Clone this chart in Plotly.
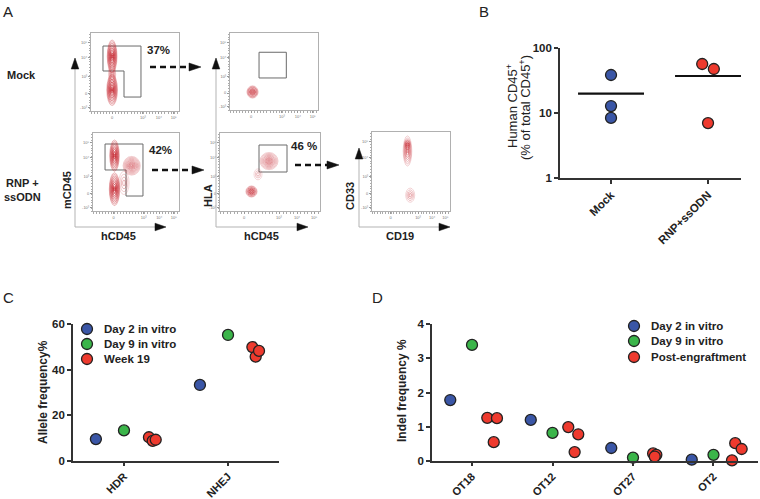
import plotly.graph_objects as go
import numpy as np

W, H = 760, 499

# ---------------- data ----------------
# Panel B (log scale, % human CD45+)
b_groups = ["Mock", "RNP+ssODN"]
b_mock = [38.4, 12.8, 8.4]
b_rnp = [56.7, 47.5, 7.0]
b_mock_jitter = [0.0, 0.0, 0.0]
b_rnp_jitter = [-0.06, 0.06, 0.0]

# Panel C (allele frequency %)
c_categories = ["HDR", "NHEJ"]
c_series = ["Day 2 in vitro", "Day 9 in vitro", "Week 19"]
c_day2 = [9.6, 33.3]
c_day9 = [13.4, 55.2]
c_week19_hdr = [10.4, 8.8, 9.3]
c_week19_nhej = [49.9, 45.7, 48.2]
c_week19_offsets_hdr = [0.24, 0.276, 0.305]
c_week19_offsets_nhej = [0.234, 0.266, 0.298]

# Panel D (indel frequency %)
d_categories = ["OT18", "OT12", "OT27", "OT2"]
d_series = ["Day 2 in vitro", "Day 9 in vitro", "Post-engraftment"]
d_day2 = [1.78, 1.20, 0.38, 0.04]
d_day9 = [3.39, 0.82, 0.10, 0.18]
d_post = [[1.26, 1.25, 0.55], [0.99, 0.78, 0.26], [0.22, 0.18, 0.13], [0.02, 0.52, 0.35]]
d_post_offsets = [[0.19, 0.31, 0.27], [0.196, 0.32, 0.275], [0.25, 0.29, 0.27], [0.23, 0.27, 0.35]]

# Panel A flow plots: gates (0-100 plotting units) and population blobs
flow_x_ticks = [24, 59, 77, 94]
flow_x_ticktext = ["0", "10³", "10⁴", "10⁵"]
flow_y_ticks = [4, 22, 44, 68, 88]
flow_y_ticktext = ["-10³", "0", "10³", "10⁴", "10⁵"]

gate_f1_x = [13.6, 56.8, 56.8, 37.5, 37.5, 13.6, 13.6]
gate_f1_y = [83.3, 83.3, 17.9, 17.9, 51.3, 51.3, 83.3]
gate_f3_x = [14.0, 58.1, 58.1, 38.4, 38.4, 14.0, 14.0]
gate_f3_y = [85.9, 85.9, 19.2, 19.2, 52.6, 52.6, 85.9]
gate_f2_x = [33, 64, 64, 33, 33]
gate_f2_y = [75, 75, 41.6, 41.6, 75]
gate_f4_x = [39, 67, 67, 39, 39]
gate_f4_y = [84.6, 84.6, 50, 50, 84.6]

# blob: (panel, cx, cy, width, height, rings, opacity)
blobs = [
    (1, 24, 70, 11, 42, 10, 0.6),
    (1, 24, 27, 12, 40, 10, 0.6),
    (1, 24, 47, 8, 30, 4, 0.45),
    (3, 25, 71, 11, 40, 10, 0.6),
    (3, 25, 28, 12, 42, 10, 0.6),
    (3, 45, 58, 20, 24, 10, 0.4),
    (3, 36, 36, 12, 30, 4, 0.3),
    (2, 25.6, 23.4, 12.5, 15.6, 7, 0.6),
    (4, 31.5, 25, 11, 14, 7, 0.6),
    (4, 49, 64, 18, 22, 9, 0.4),
    (4, 38, 47, 8, 14, 3, 0.3),
    (5, 45.5, 76, 11, 38, 7, 0.4),
    (5, 45.5, 84, 7, 12, 4, 0.6),
    (5, 49, 20, 11.5, 18, 4, 0.35),
]

# ---------------- helpers ----------------
def px(x):
    return x / W


def py(y):
    return 1 - y / H


BLUE = "#3a56a6"
GREEN = "#3bb54a"
RED = "#ee3a2e"
EDGE = "#222222"
FONT = "Liberation Sans"
AXC = "#333333"

fig = go.Figure()


def marker(color):
    return dict(size=11, color=color, line=dict(color=EDGE, width=1.3))


# ---------------- Panel B ----------------
fig.add_trace(go.Scatter(x=b_mock_jitter, y=b_mock, mode="markers", marker=marker(BLUE),
                         xaxis="x", yaxis="y", showlegend=False, cliponaxis=False))
fig.add_trace(go.Scatter(x=[1 + j for j in b_rnp_jitter], y=b_rnp, mode="markers", marker=marker(RED),
                         xaxis="x", yaxis="y", showlegend=False, cliponaxis=False))
for i, vals in enumerate([b_mock, b_rnp]):
    m = float(np.mean(vals))
    fig.add_trace(go.Scatter(x=[i - 0.34, i + 0.34], y=[m, m], mode="lines",
                             line=dict(color="#111", width=2.2), xaxis="x", yaxis="y",
                             showlegend=False, cliponaxis=False))

# ---------------- Panel C ----------------
fig.add_trace(go.Scatter(x=[-0.27, 1 - 0.27], y=c_day2, mode="markers", marker=marker(BLUE),
                         xaxis="x2", yaxis="y2", showlegend=False, cliponaxis=False))
fig.add_trace(go.Scatter(x=[0, 1], y=c_day9, mode="markers", marker=marker(GREEN),
                         xaxis="x2", yaxis="y2", showlegend=False, cliponaxis=False))
c_red_x = [o for o in c_week19_offsets_hdr] + [1 + o for o in c_week19_offsets_nhej]
fig.add_trace(go.Scatter(x=c_red_x, y=c_week19_hdr + c_week19_nhej, mode="markers", marker=marker(RED),
                         xaxis="x2", yaxis="y2", showlegend=False, cliponaxis=False))

# ---------------- Panel D ----------------
fig.add_trace(go.Scatter(x=[i - 0.27 for i in range(4)], y=d_day2, mode="markers", marker=marker(BLUE),
                         xaxis="x3", yaxis="y3", showlegend=False, cliponaxis=False))
fig.add_trace(go.Scatter(x=list(range(4)), y=d_day9, mode="markers", marker=marker(GREEN),
                         xaxis="x3", yaxis="y3", showlegend=False, cliponaxis=False))
dx, dy = [], []
for i in range(4):
    for o, v in zip(d_post_offsets[i], d_post[i]):
        dx.append(i + o)
        dy.append(v)
fig.add_trace(go.Scatter(x=dx, y=dy, mode="markers", marker=marker(RED),
                         xaxis="x3", yaxis="y3", showlegend=False, cliponaxis=False))

# ---------------- Panel A flow plots ----------------
gates = {1: (gate_f1_x, gate_f1_y), 3: (gate_f3_x, gate_f3_y), 2: (gate_f2_x, gate_f2_y), 4: (gate_f4_x, gate_f4_y)}
for p, (gx, gy) in gates.items():
    fig.add_trace(go.Scatter(x=gx, y=gy, mode="lines", line=dict(color="#6a6a6a", width=1),
                             xaxis=f"x{p+3}", yaxis=f"y{p+3}", showlegend=False, hoverinfo="skip"))

shapes = []
for (p, cx, cy, w, h, n, op) in blobs:
    for k in range(1, n + 1):
        f = k / n
        a = min(1.0, op * (1.7 - f))
        shapes.append(dict(type="circle", xref=f"x{p+3}", yref=f"y{p+3}",
                           x0=cx - w * f / 2, x1=cx + w * f / 2, y0=cy - h * f / 2, y1=cy + h * f / 2,
                           line=dict(color=f"rgba(195,30,40,{a:.2f})", width=0.8), layer="above"))

# ---------------- layout axes ----------------
tickfont = dict(family=FONT, size=11.5, color="#222", weight="bold")
common = dict(showgrid=False, zeroline=False, showline=True, linecolor=AXC, linewidth=1.6,
              ticks="outside", ticklen=4, tickwidth=1.5, tickcolor=AXC, tickfont=tickfont,
              automargin=False)
xcat_font = dict(family=FONT, size=11, color="#222", weight="bold")

layout = dict(
    width=W, height=H, margin=dict(l=0, r=0, t=0, b=0, pad=0, autoexpand=False), autosize=False,
    plot_bgcolor="white", paper_bgcolor="white", showlegend=False,
    font=dict(family=FONT, color="#222"),
)

layout["xaxis"] = dict(domain=[px(560), px(741)], range=[-0.526, 1.34], tickvals=[0, 1],
                       ticktext=b_groups, tickangle=-45, anchor="y", **common)
layout["yaxis"] = dict(domain=[py(178), py(48)], type="log", range=[0, 2],
                       tickvals=[1, 10, 100], ticktext=["1", "10", "100"], anchor="x", **common)

layout["xaxis2"] = dict(domain=[px(73), px(279)], range=[-0.49, 1.49], tickvals=[0, 1],
                        ticktext=c_categories, tickangle=-45, anchor="y2",
                        **{**common, "tickfont": xcat_font, "ticklen": 3})
layout["yaxis2"] = dict(domain=[py(461), py(324)], range=[0, 60], tickvals=[0, 20, 40, 60],
                        anchor="x2", **common)

layout["xaxis3"] = dict(domain=[px(432), px(758)], range=[-0.497, 3.553], tickvals=[0, 1, 2, 3],
                        ticktext=d_categories, tickangle=-45, anchor="y3",
                        **{**common, "tickfont": xcat_font, "ticklen": 3})
layout["yaxis3"] = dict(domain=[py(461), py(324)], range=[0, 4], tickvals=[0, 1, 2, 3, 4],
                        anchor="x3", **common)

flow_frames = {
    1: (91, 179, 33, 111),
    2: (230, 318, 33, 110),
    3: (93, 179, 133, 211),
    4: (220, 320, 133, 211),
    5: (372, 450, 132, 211),
}
flow_tickfont = dict(family=FONT, size=4, color="#777")
for p, (x0, x1, y0, y1) in flow_frames.items():
    n = p + 3
    fc = dict(showgrid=False, zeroline=False, showline=True, mirror=True, linecolor="#b0b0b0",
              linewidth=1, ticks="outside", ticklen=2, tickwidth=0.8, tickcolor="#999",
              tickfont=flow_tickfont, range=[0, 100], fixedrange=True, automargin=False,
              minor=dict(ticks="outside", ticklen=1.5, tickcolor="#aaa", dtick=3.5))
    layout[f"xaxis{n}"] = dict(domain=[px(x0), px(x1)], anchor=f"y{n}", tickvals=flow_x_ticks,
                               ticktext=flow_x_ticktext, **fc)
    layout[f"yaxis{n}"] = dict(domain=[py(y1), py(y0)], anchor=f"x{n}", tickvals=flow_y_ticks,
                               ticktext=flow_y_ticktext, **fc)

# ---------------- L-shaped axis arrows and dashed arrows ----------------
def pline(x0, y0, x1, y1, color="#b3b3b3", width=1, dash=None):
    d = dict(type="line", xref="paper", yref="paper", x0=px(x0), y0=py(y0), x1=px(x1), y1=py(y1),
             line=dict(color=color, width=width))
    if dash:
        d["line"]["dash"] = dash
    shapes.append(d)


def tri(x, y, direction, length=11, half=3.8):
    if direction == "up":
        path = f"M 0,0 L {-half},{-length} L {half},{-length} Z"
    else:
        path = f"M 0,0 L {-length},{half} L {-length},{-half} Z"
    shapes.append(dict(type="path", xref="paper", yref="paper", xsizemode="pixel", ysizemode="pixel",
                       xanchor=px(x), yanchor=py(y), path=path, fillcolor="#111",
                       line=dict(color="#111", width=0.5)))


for (vx, vtop, hright) in [(75, 62, 160), (216, 62, 302), (359, 152, 444)]:
    pline(vx, 227, vx, vtop + 4)
    pline(vx, 227, hright - 4, 227)
    tri(vx, vtop - 4, "up")
    tri(hright + 6, 227, "right")

for (x0, x1, y) in [(150, 189, 67), (152, 192, 170), (295, 327, 165)]:
    pline(x0, y, x1, y, color="#111", width=2.4, dash="6px,4px")
    tri(x1 + 12, y, "right", length=12, half=4)

annotations = []


def text(x, y, s, size=11, bold=True, angle=0, xanchor="center", color="#222"):
    annotations.append(dict(x=px(x), y=py(y), xref="paper", yref="paper", text=s, showarrow=False,
                            textangle=angle, xanchor=xanchor, yanchor="middle",
                            font=dict(family=FONT, size=size, color=color,
                                      weight="bold" if bold else "normal")))


# panel letters
text(8, 11, "A", size=15, bold=False)
text(484, 11, "B", size=15, bold=False)
text(8, 297, "C", size=15, bold=False)
text(377, 297, "D", size=15, bold=False)

# panel A labels
text(21, 75, "Mock", size=11)
text(22, 190, "RNP +<br>ssODN", size=11)
text(158, 50, "37%", size=11.5)
text(160, 150, "42%", size=11.5)
text(304, 146, "46 %", size=11.5)
text(67, 190, "mCD45", size=11, angle=-90)
text(208, 196, "HLA", size=11, angle=-90)
text(350, 196, "CD33", size=11, angle=-90)
text(119, 236, "hCD45", size=11)
text(261, 236, "hCD45", size=11)
text(400, 236, "CD19", size=11)

# axis titles
text(512, 106, "Human CD45<sup>+</sup>", size=13, bold=False, angle=-90)
text(525, 108, "(% of total CD45<sup>+</sup>)", size=13, bold=False, angle=-90)
text(43, 392, "Allele frequency%", size=12, angle=-90)
text(402, 391, "Indel frequency %", size=12, angle=-90)

# legends (markers + labels)
for (mx, ys, names) in [(87, [329, 344, 359], c_series), (634, [326, 341, 357], d_series)]:
    for yy, nm, col in zip(ys, names, [BLUE, GREEN, RED]):
        shapes.append(dict(type="circle", xref="paper", yref="paper", xsizemode="pixel", ysizemode="pixel",
                           xanchor=px(mx), yanchor=py(yy), x0=-5.5, x1=5.5, y0=-5.5, y1=5.5,
                           fillcolor=col, line=dict(color=EDGE, width=1.3)))
        text(mx + 15, yy, nm, size=11.5, xanchor="left")

layout["shapes"] = shapes
layout["annotations"] = annotations
fig.update_layout(**layout)

fig.write_html("out.html", config={"displayModeBar": False},
               post_script="document.body.style.margin='0';")
